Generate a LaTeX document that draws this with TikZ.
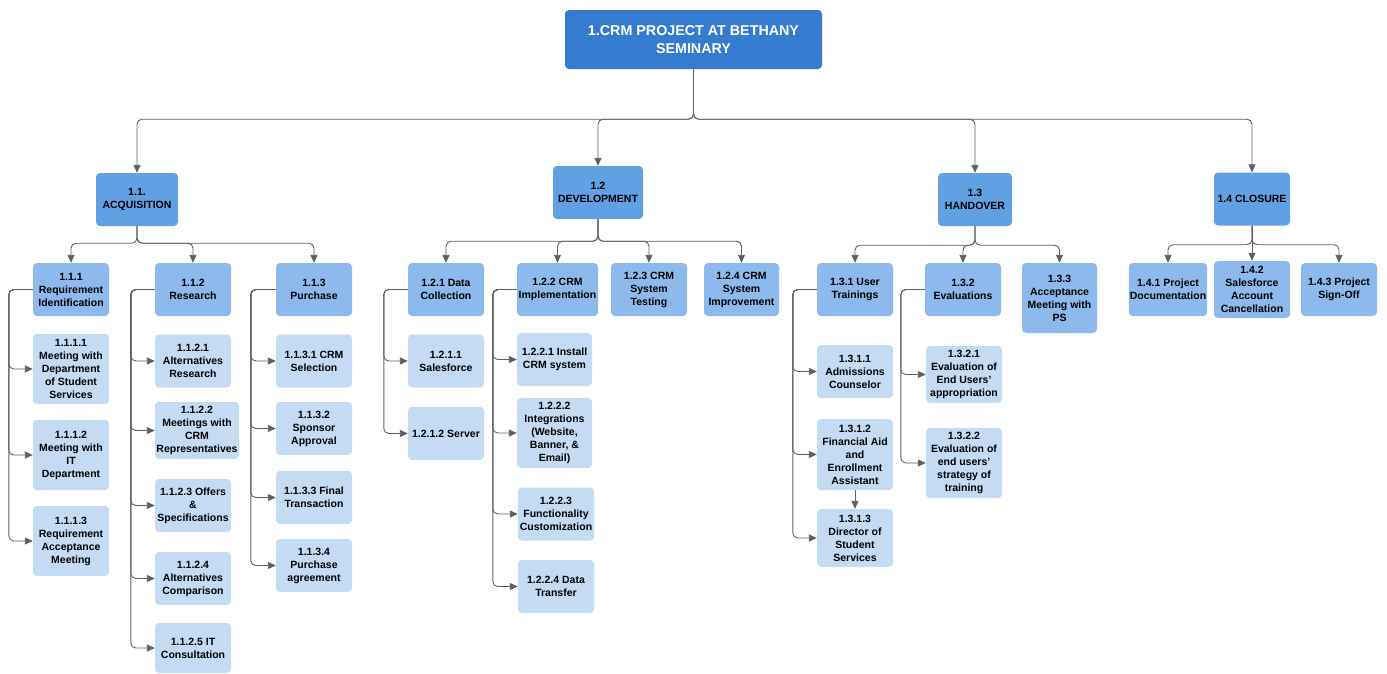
\documentclass[tikz,border=0pt]{standalone}
\usepackage{fontspec}
\setmainfont{Liberation Sans}
\usepackage{xcolor}
\definecolor{rblue}{RGB}{53,124,208}
\definecolor{pblue}{RGB}{96,160,227}
\definecolor{tblue}{RGB}{141,185,236}
\definecolor{sblue}{RGB}{197,218,243}
\definecolor{lgray}{RGB}{95,95,95}
\usepackage{tikz}
\usetikzlibrary{arrows.meta}

\begin{document}
\begin{tikzpicture}[
  x=1pt,y=-1pt,
  box/.style={rectangle,rounded corners=4pt,minimum width=76pt,minimum height=53pt,inner sep=1pt,align=center,font=\fontsize{10.5}{13}\selectfont\bfseries},
  rbox/.style={box,fill=rblue,text=white,minimum width=257pt,minimum height=59pt,font=\fontsize{14.3}{18}\selectfont\bfseries},
  pbox/.style={box,fill=pblue},
  tbox/.style={box,fill=tblue},
  sbox/.style={box,fill=sblue},
  arrow/.style={-{Triangle[length=8pt,width=7pt]},line width=0.9pt,lgray,rounded corners=5pt}
]
  \useasboundingbox (0,0) rectangle (1387,673);

  \node[rbox] (root) at (693.5,39.5) {1.CRM PROJECT AT BETHANY\\SEMINARY};

  \node[pbox,minimum width=82pt] (acq) at (137,199.5) {1.1.\\ACQUISITION};
  \node[pbox,minimum width=90pt] (dev) at (598,192.5) {1.2\\DEVELOPMENT};
  \node[pbox,minimum width=74pt] (han) at (975,199.5) {1.3\\HANDOVER};
  \node[pbox] (clo) at (1252,199) {1.4 CLOSURE};

  % acquisition
  \node[tbox] (a1) at (71,289.5) {1.1.1\\Requirement\\Identification};
  \node[tbox] (a2) at (193,289.5) {1.1.2\\Research};
  \node[tbox] (a3) at (314,289.5) {1.1.3\\Purchase};
  \node[sbox,minimum height=70pt] (a11) at (71,369) {1.1.1.1\\Meeting with\\Department\\of Student\\Services};
  \node[sbox,minimum height=70pt] (a12) at (71,455) {1.1.1.2\\Meeting with\\IT\\Department};
  \node[sbox,minimum height=70pt] (a13) at (71,541) {1.1.1.3\\Requirement\\Acceptance\\Meeting};
  \node[sbox] (a21) at (193,361) {1.1.2.1\\Alternatives\\Research};
  \node[sbox,minimum width=84pt,minimum height=57pt] (a22) at (197,430.5) {1.1.2.2\\Meetings with\\CRM\\Representatives};
  \node[sbox] (a23) at (193,505.5) {1.1.2.3 Offers\\\&\\Specifications};
  \node[sbox] (a24) at (193,578.5) {1.1.2.4\\Alternatives\\Comparison};
  \node[sbox,minimum height=50pt] (a25) at (193,648) {1.1.2.5 IT\\Consultation};
  \node[sbox] (a31) at (314,361) {1.1.3.1 CRM\\Selection};
  \node[sbox] (a32) at (314,428.5) {1.1.3.2\\Sponsor\\Approval};
  \node[sbox] (a33) at (314,497.5) {1.1.3.3 Final\\Transaction};
  \node[sbox] (a34) at (314,565.5) {1.1.3.4\\Purchase\\agreement};

  % development
  \node[tbox] (d1) at (446,289.5) {1.2.1 Data\\Collection};
  \node[tbox,minimum width=81pt] (d2) at (557.5,289.5) {1.2.2 CRM\\Implementation};
  \node[tbox] (d3) at (649,289.5) {1.2.3 CRM\\System\\Testing};
  \node[tbox,minimum width=75pt] (d4) at (741.5,289.5) {1.2.4 CRM\\System\\Improvement};
  \node[sbox] (d11) at (446,361) {1.2.1.1\\Salesforce};
  \node[sbox] (d12) at (446,433.5) {1.2.1.2 Server};
  \node[sbox,minimum width=75pt] (d21) at (554.5,359.5) {1.2.2.1 Install\\CRM system};
  \node[sbox,minimum width=75pt,minimum height=70pt] (d22) at (554.5,433) {1.2.2.2\\Integrations\\(Website,\\Banner, \&\\Email)};
  \node[sbox] (d23) at (556,514) {1.2.2.3\\Functionality\\Customization};
  \node[sbox] (d24) at (556,586.5) {1.2.2.4 Data\\Transfer};

  % handover
  \node[tbox] (h1) at (855,289.5) {1.3.1 User\\Trainings};
  \node[tbox] (h2) at (963,289.5) {1.3.2\\Evaluations};
  \node[tbox,minimum width=75pt,minimum height=70pt] (h3) at (1059.5,298) {1.3.3\\Acceptance\\Meeting with\\PS};
  \node[sbox] (h11) at (855,371.5) {1.3.1.1\\Admissions\\Counselor};
  \node[sbox,minimum height=71pt] (h12) at (855,454.5) {1.3.1.2\\Financial Aid\\and\\Enrollment\\Assistant};
  \node[sbox,minimum height=58pt] (h13) at (855,538) {1.3.1.3\\Director of\\Student\\Services};
  \node[sbox,minimum height=57pt] (h21) at (964,374.5) {1.3.2.1\\Evaluation of\\End Users'\\appropriation};
  \node[sbox,minimum height=70pt] (h22) at (964,463) {1.3.2.2\\Evaluation of\\end users'\\strategy of\\training};

  % closure
  \node[tbox] (c1) at (1168,289.5) {1.4.1 Project\\Documentation};
  \node[tbox,minimum height=57pt] (c2) at (1252,289.5) {1.4.2\\Salesforce\\Account\\Cancellation};
  \node[tbox] (c3) at (1339,289.5) {1.4.3 Project\\Sign-Off};

  \draw[arrow] (root.south) -- ++(0,50) -| (acq.north);
  \draw[arrow] (root.south) -- ++(0,50) -| (dev.north);
  \draw[arrow] (root.south) -- ++(0,50) -| (han.north);
  \draw[arrow] (root.south) -- ++(0,50) -| (clo.north);

  \draw[arrow] (acq.south) -- ++(0,17) -| (a1.north);
  \draw[arrow] (acq.south) -- ++(0,17) -| (a2.north);
  \draw[arrow] (acq.south) -- ++(0,17) -| (a3.north);
  \draw[arrow] (dev.south) -- ++(0,22) -| (d1.north);
  \draw[arrow] (dev.south) -- ++(0,22) -| (d2.north);
  \draw[arrow] (dev.south) -- ++(0,22) -| (d3.north);
  \draw[arrow] (dev.south) -- ++(0,22) -| (d4.north);
  \draw[arrow] (han.south) -- ++(0,19) -| (h1.north);
  \draw[arrow] (han.south) -- ++(0,19) -| (h2.north);
  \draw[arrow] (han.south) -- ++(0,19) -| (h3.north);
  \draw[arrow] (clo.south) -- ++(0,19) -| (c1.north);
  \draw[arrow] (clo.south) -- (c2.north);
  \draw[arrow] (clo.south) -- ++(0,19) -| (c3.north);

  \draw[arrow] (a1.west) -- ++(-24,0) |- (a11.west);
  \draw[arrow] (a1.west) -- ++(-24,0) |- (a12.west);
  \draw[arrow] (a1.west) -- ++(-24,0) |- (a13.west);
  \draw[arrow] (a2.west) -- ++(-24,0) |- (a21.west);
  \draw[arrow] (a2.west) -- ++(-24,0) |- (a22.west);
  \draw[arrow] (a2.west) -- ++(-24,0) |- (a23.west);
  \draw[arrow] (a2.west) -- ++(-24,0) |- (a24.west);
  \draw[arrow] (a2.west) -- ++(-24,0) |- (a25.west);
  \draw[arrow] (a3.west) -- ++(-25,0) |- (a31.west);
  \draw[arrow] (a3.west) -- ++(-25,0) |- (a32.west);
  \draw[arrow] (a3.west) -- ++(-25,0) |- (a33.west);
  \draw[arrow] (a3.west) -- ++(-25,0) |- (a34.west);
  \draw[arrow] (d1.west) -- ++(-24,0) |- (d11.west);
  \draw[arrow] (d1.west) -- ++(-24,0) |- (d12.west);
  \draw[arrow] (d2.west) -- ++(-24,0) |- (d21.west);
  \draw[arrow] (d2.west) -- ++(-24,0) |- (d22.west);
  \draw[arrow] (d2.west) -- ++(-24,0) |- (d23.west);
  \draw[arrow] (d2.west) -- ++(-24,0) |- (d24.west);
  \draw[arrow] (h1.west) -- ++(-24,0) |- (h11.west);
  \draw[arrow] (h1.west) -- ++(-24,0) |- (h12.west);
  \draw[arrow] (h1.west) -- ++(-24,0) |- (h13.west);
  \draw[arrow] (h12) -- (h13);
  \draw[arrow] (h2.west) -- ++(-24,0) |- (h21.west);
  \draw[arrow] (h2.west) -- ++(-24,0) |- (h22.west);
\end{tikzpicture}
\end{document}
